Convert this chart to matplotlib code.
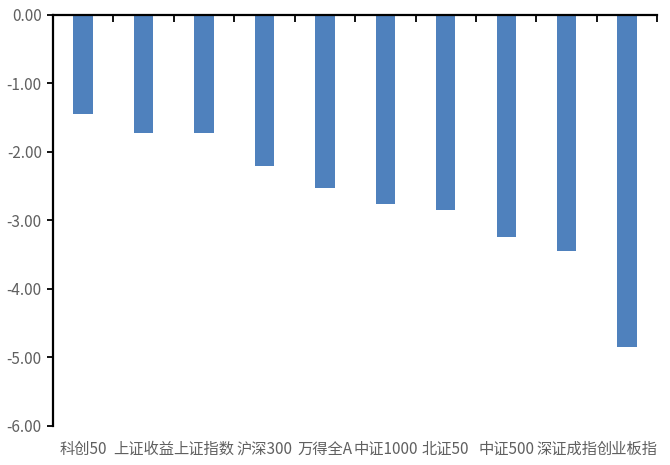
import numpy as np
import matplotlib
matplotlib.use('Agg')
import matplotlib.pyplot as plt
from matplotlib.ticker import FixedLocator, FormatStrFormatter

plt.rcParams['font.family'] = ['Liberation Sans Narrow', 'Noto Sans CJK SC', 'DejaVu Sans']

categories = ['科创50', '上证收益', '上证指数', '沪深300', '万得全A',
              '中证1000', '北证50', '中证500', '深证成指', '创业板指']
values = [-1.45, -1.72, -1.73, -2.20, -2.53, -2.76, -2.85, -3.24, -3.45, -4.85]

fig = plt.figure(figsize=(6.7, 4.65), dpi=100)
ax = fig.add_axes([0.079, 0.084, 0.902, 0.884])

x = np.arange(len(categories))
ax.bar(x, values, width=0.32, color='#4F81BD')

ax.set_xlim(-0.5, len(categories) - 0.5)
ax.set_ylim(-6, 0)
ax.set_yticks(np.arange(-6, 0.5, 1))
ax.yaxis.set_major_formatter(FormatStrFormatter('%.2f'))

ax.set_xticks(x)
ax.set_xticklabels(categories)
# tick marks between categories sit on the zero line
ax.xaxis.set_minor_locator(FixedLocator(np.arange(0.5, len(categories), 1)))

for s in ['right', 'bottom']:
    ax.spines[s].set_visible(False)
ax.spines['top'].set_linewidth(1.6)
ax.spines['left'].set_linewidth(1.6)

ax.tick_params(axis='x', which='major', length=0, pad=11, labelsize=11, labelcolor='#606060')
ax.tick_params(axis='x', which='minor', bottom=False, top=True, direction='in', length=5, width=1.3)
ax.tick_params(axis='y', direction='out', length=4, width=1.3, pad=4, labelsize=11, labelcolor='#606060')

fig.savefig('out.png', dpi=100)
